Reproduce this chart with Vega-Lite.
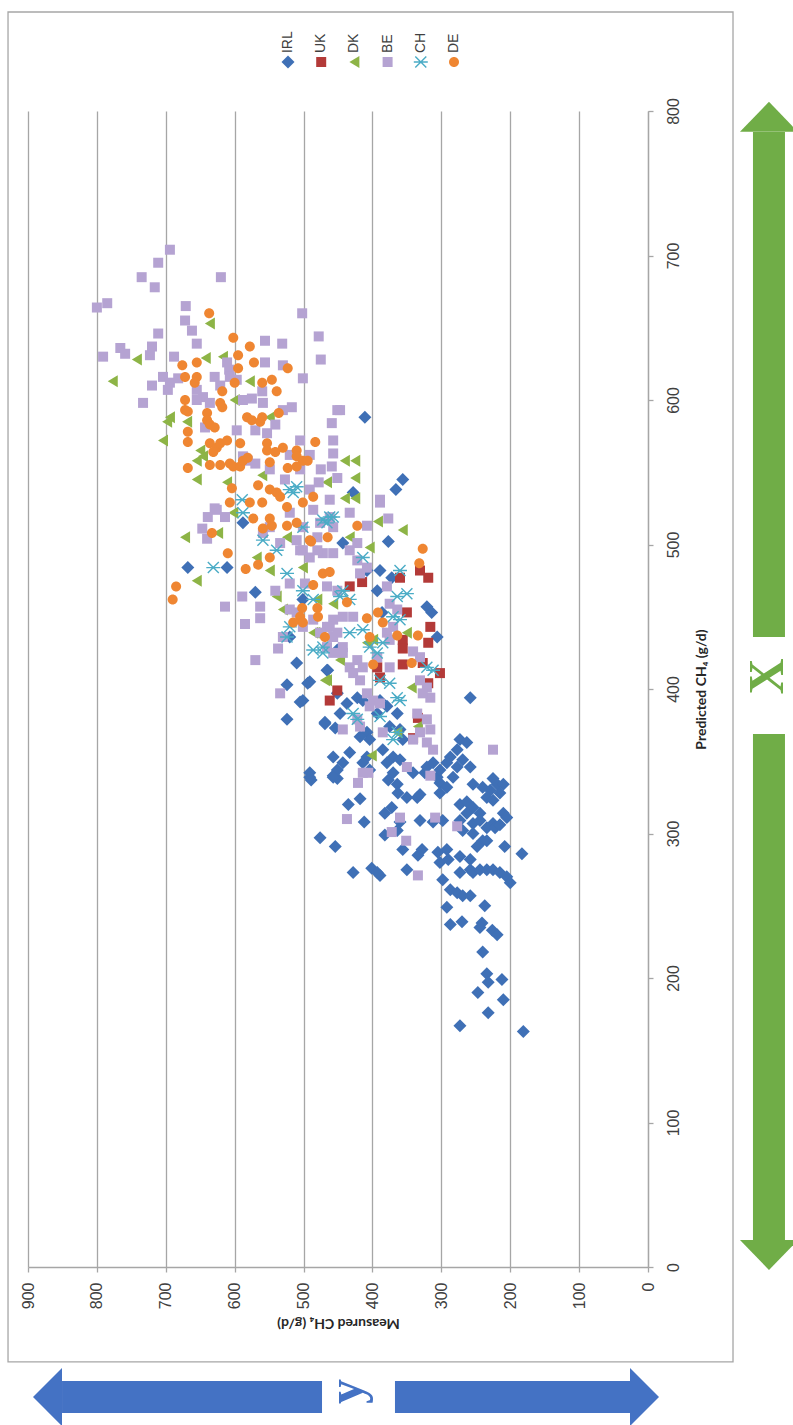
{
"$schema": "https://vega.github.io/schema/vega-lite/v6.json",
"width": 620, "height": 1156,
"autosize": {"type": "none"},
"padding": {"left": 28, "top": 111, "right": 145, "bottom": 158},
"background": "white",
"config": {"view": {"stroke": null}, "font": "Liberation Sans"},
"datasets": {"pts": [
{"country":"IRL","meas":489,"pred":337},{"country":"IRL","meas":457,"pred":340},{"country":"IRL","meas":451,"pred":338},{"country":"IRL","meas":435,"pred":320},{"country":"IRL","meas":418,"pred":324},{"country":"IRL","meas":412,"pred":308},{"country":"IRL","meas":476,"pred":297},{"country":"IRL","meas":454,"pred":291},{"country":"IRL","meas":428,"pred":273},{"country":"IRL","meas":401,"pred":276},{"country":"IRL","meas":389,"pred":271},{"country":"IRL","meas":393,"pred":273},{"country":"IRL","meas":382,"pred":314},{"country":"IRL","meas":372,"pred":318},{"country":"IRL","meas":377,"pred":337},{"country":"IRL","meas":364,"pred":334},{"country":"IRL","meas":370,"pred":342},{"country":"IRL","meas":363,"pred":328},{"country":"IRL","meas":350,"pred":325},{"country":"IRL","meas":335,"pred":325},{"country":"IRL","meas":331,"pred":327},{"country":"IRL","meas":360,"pred":308},{"country":"IRL","meas":364,"pred":302},{"country":"IRL","meas":382,"pred":299},{"country":"IRL","meas":350,"pred":275},{"country":"IRL","meas":356,"pred":289},{"country":"IRL","meas":334,"pred":285},{"country":"IRL","meas":328,"pred":289},{"country":"IRL","meas":331,"pred":309},{"country":"IRL","meas":341,"pred":342},{"country":"IRL","meas":324,"pred":342},{"country":"IRL","meas":302,"pred":335},{"country":"IRL","meas":302,"pred":328},{"country":"IRL","meas":292,"pred":332},{"country":"IRL","meas":306,"pred":339},{"country":"IRL","meas":283,"pred":339},{"country":"IRL","meas":312,"pred":308},{"country":"IRL","meas":298,"pred":309},{"country":"IRL","meas":305,"pred":287},{"country":"IRL","meas":292,"pred":289},{"country":"IRL","meas":302,"pred":280},{"country":"IRL","meas":290,"pred":282},{"country":"IRL","meas":298,"pred":268},
{"country":"IRL","meas":273,"pred":320},{"country":"IRL","meas":263,"pred":322},{"country":"IRL","meas":254,"pred":318},{"country":"IRL","meas":244,"pred":314},{"country":"IRL","meas":263,"pred":314},{"country":"IRL","meas":254,"pred":307},{"country":"IRL","meas":244,"pred":309},{"country":"IRL","meas":234,"pred":304},{"country":"IRL","meas":254,"pred":300},{"country":"IRL","meas":240,"pred":295},{"country":"IRL","meas":269,"pred":302},{"country":"IRL","meas":273,"pred":309},{"country":"IRL","meas":248,"pred":291},{"country":"IRL","meas":234,"pred":295},{"country":"IRL","meas":225,"pred":307},
{"country":"IRL","meas":273,"pred":284},{"country":"IRL","meas":258,"pred":282},{"country":"IRL","meas":273,"pred":273},{"country":"IRL","meas":258,"pred":275},{"country":"IRL","meas":254,"pred":273},{"country":"IRL","meas":244,"pred":275},{"country":"IRL","meas":234,"pred":275},{"country":"IRL","meas":225,"pred":275},{"country":"IRL","meas":215,"pred":273},{"country":"IRL","meas":205,"pred":270},{"country":"IRL","meas":200,"pred":266},{"country":"IRL","meas":287,"pred":261},{"country":"IRL","meas":277,"pred":259},{"country":"IRL","meas":269,"pred":257},{"country":"IRL","meas":258,"pred":257},{"country":"IRL","meas":292,"pred":249},{"country":"IRL","meas":287,"pred":237},{"country":"IRL","meas":270,"pred":239},{"country":"IRL","meas":237,"pred":250},{"country":"IRL","meas":241,"pred":238},{"country":"IRL","meas":244,"pred":235},{"country":"IRL","meas":226,"pred":233},{"country":"IRL","meas":219,"pred":230},{"country":"IRL","meas":240,"pred":218},{"country":"IRL","meas":234,"pred":203},{"country":"IRL","meas":232,"pred":197},{"country":"IRL","meas":212,"pred":199},{"country":"IRL","meas":247,"pred":190},{"country":"IRL","meas":210,"pred":185},{"country":"IRL","meas":232,"pred":176},{"country":"IRL","meas":273,"pred":167},{"country":"IRL","meas":181,"pred":163},
{"country":"IRL","meas":254,"pred":334},{"country":"IRL","meas":240,"pred":332},{"country":"IRL","meas":229,"pred":330},{"country":"IRL","meas":219,"pred":334},{"country":"IRL","meas":210,"pred":334},{"country":"IRL","meas":234,"pred":325},{"country":"IRL","meas":225,"pred":323},{"country":"IRL","meas":215,"pred":328},{"country":"IRL","meas":210,"pred":314},{"country":"IRL","meas":205,"pred":311},{"country":"IRL","meas":222,"pred":304},{"country":"IRL","meas":215,"pred":306},{"country":"IRL","meas":208,"pred":291},{"country":"IRL","meas":183,"pred":286},
{"country":"IRL","meas":377,"pred":502},{"country":"IRL","meas":389,"pred":482},{"country":"IRL","meas":372,"pred":477},{"country":"IRL","meas":321,"pred":457},{"country":"IRL","meas":314,"pred":453},{"country":"IRL","meas":306,"pred":436},{"country":"IRL","meas":258,"pred":394},{"country":"IRL","meas":491,"pred":405},{"country":"IRL","meas":501,"pred":392},{"country":"IRL","meas":465,"pred":413},{"country":"IRL","meas":451,"pred":397},{"country":"IRL","meas":437,"pred":390},{"country":"IRL","meas":422,"pred":394},{"country":"IRL","meas":414,"pred":392},{"country":"IRL","meas":447,"pred":383},{"country":"IRL","meas":469,"pred":377},{"country":"IRL","meas":454,"pred":373},{"country":"IRL","meas":408,"pred":370},{"country":"IRL","meas":404,"pred":365},{"country":"IRL","meas":418,"pred":367},{"country":"IRL","meas":389,"pred":392},{"country":"IRL","meas":379,"pred":388},{"country":"IRL","meas":364,"pred":383},{"country":"IRL","meas":360,"pred":372},{"country":"IRL","meas":356,"pred":365},{"country":"IRL","meas":393,"pred":383},{"country":"IRL","meas":375,"pred":374},
{"country":"IRL","meas":273,"pred":365},{"country":"IRL","meas":263,"pred":363},{"country":"IRL","meas":277,"pred":358},{"country":"IRL","meas":287,"pred":353},{"country":"IRL","meas":269,"pred":351},{"country":"IRL","meas":258,"pred":346},{"country":"IRL","meas":277,"pred":346},{"country":"IRL","meas":292,"pred":349},{"country":"IRL","meas":302,"pred":344},{"country":"IRL","meas":321,"pred":346},{"country":"IRL","meas":312,"pred":349},{"country":"IRL","meas":225,"pred":338},
{"country":"IRL","meas":457,"pred":353},{"country":"IRL","meas":443,"pred":349},{"country":"IRL","meas":451,"pred":344},{"country":"IRL","meas":491,"pred":342},{"country":"IRL","meas":433,"pred":356},{"country":"IRL","meas":385,"pred":358},{"country":"IRL","meas":370,"pred":353},{"country":"IRL","meas":360,"pred":351},{"country":"IRL","meas":379,"pred":349},{"country":"IRL","meas":408,"pred":353},{"country":"IRL","meas":414,"pred":349},{"country":"IRL","meas":404,"pred":344},{"country":"IRL","meas":443,"pred":501},{"country":"IRL","meas":408,"pred":482},{"country":"IRL","meas":393,"pred":468},{"country":"IRL","meas":386,"pred":453},
{"country":"IRL","meas":668,"pred":484},{"country":"IRL","meas":611,"pred":484},{"country":"IRL","meas":588,"pred":515},{"country":"IRL","meas":570,"pred":467},{"country":"IRL","meas":510,"pred":418},{"country":"IRL","meas":524,"pred":403},{"country":"IRL","meas":494,"pred":404},{"country":"IRL","meas":505,"pred":391},{"country":"IRL","meas":524,"pred":379},{"country":"IRL","meas":469,"pred":376},{"country":"IRL","meas":466,"pred":413},{"country":"IRL","meas":491,"pred":339},{"country":"IRL","meas":457,"pred":339},{"country":"IRL","meas":501,"pred":462},{"country":"IRL","meas":520,"pred":436},{"country":"IRL","meas":451,"pred":427},
{"country":"IRL","meas":411,"pred":588},{"country":"IRL","meas":356,"pred":545},{"country":"IRL","meas":366,"pred":538},{"country":"IRL","meas":428,"pred":536},
{"country":"UK","meas":331,"pred":482},{"country":"UK","meas":319,"pred":477},{"country":"UK","meas":360,"pred":477},{"country":"UK","meas":415,"pred":474},{"country":"UK","meas":433,"pred":471},{"country":"UK","meas":350,"pred":453},{"country":"UK","meas":316,"pred":443},{"country":"UK","meas":319,"pred":432},{"country":"UK","meas":356,"pred":434},{"country":"UK","meas":356,"pred":428},{"country":"UK","meas":356,"pred":417},{"country":"UK","meas":327,"pred":418},{"country":"UK","meas":302,"pred":411},{"country":"UK","meas":393,"pred":415},{"country":"UK","meas":389,"pred":408},{"country":"UK","meas":451,"pred":399},{"country":"UK","meas":462,"pred":392},{"country":"UK","meas":334,"pred":380},{"country":"UK","meas":341,"pred":366},{"country":"UK","meas":319,"pred":404},
{"country":"DK","meas":636,"pred":653},{"country":"DK","meas":742,"pred":628},{"country":"DK","meas":777,"pred":613},{"country":"DK","meas":642,"pred":629},{"country":"DK","meas":617,"pred":630},{"country":"DK","meas":578,"pred":613},{"country":"DK","meas":600,"pred":600},{"country":"DK","meas":549,"pred":588},{"country":"DK","meas":694,"pred":588},{"country":"DK","meas":698,"pred":585},{"country":"DK","meas":669,"pred":585},{"country":"DK","meas":704,"pred":572},{"country":"DK","meas":650,"pred":565},{"country":"DK","meas":646,"pred":561},{"country":"DK","meas":655,"pred":558},{"country":"DK","meas":655,"pred":545},{"country":"DK","meas":611,"pred":543},{"country":"DK","meas":560,"pred":548},{"country":"DK","meas":466,"pred":543},{"country":"DK","meas":672,"pred":505},{"country":"DK","meas":655,"pred":475},{"country":"DK","meas":624,"pred":508},{"country":"DK","meas":602,"pred":522},{"country":"DK","meas":539,"pred":464},{"country":"DK","meas":530,"pred":455},{"country":"DK","meas":486,"pred":439},{"country":"DK","meas":466,"pred":406},{"country":"DK","meas":568,"pred":491},{"country":"DK","meas":549,"pred":482},{"country":"DK","meas":501,"pred":484},{"country":"DK","meas":524,"pred":505},{"country":"DK","meas":356,"pred":510},{"country":"DK","meas":392,"pred":516},{"country":"DK","meas":433,"pred":505},{"country":"DK","meas":404,"pred":498},{"country":"DK","meas":457,"pred":459},{"country":"DK","meas":480,"pred":462},{"country":"DK","meas":350,"pred":439},{"country":"DK","meas":483,"pred":439},{"country":"DK","meas":408,"pred":432},{"country":"DK","meas":399,"pred":434},{"country":"DK","meas":447,"pred":420},{"country":"DK","meas":469,"pred":406},{"country":"DK","meas":343,"pred":401},{"country":"DK","meas":364,"pred":370},{"country":"DK","meas":401,"pred":354},{"country":"DK","meas":334,"pred":374},{"country":"DK","meas":440,"pred":558},{"country":"DK","meas":425,"pred":558},{"country":"DK","meas":425,"pred":546},{"country":"DK","meas":440,"pred":532},{"country":"DK","meas":425,"pred":532},
{"country":"BE","meas":694,"pred":704},{"country":"BE","meas":711,"pred":695},{"country":"BE","meas":735,"pred":685},{"country":"BE","meas":716,"pred":678},{"country":"BE","meas":620,"pred":685},{"country":"BE","meas":800,"pred":664},{"country":"BE","meas":785,"pred":667},{"country":"BE","meas":671,"pred":665},{"country":"BE","meas":672,"pred":655},{"country":"BE","meas":662,"pred":648},{"country":"BE","meas":711,"pred":646},{"country":"BE","meas":655,"pred":639},{"country":"BE","meas":502,"pred":660},{"country":"BE","meas":556,"pred":641},{"country":"BE","meas":531,"pred":639},{"country":"BE","meas":478,"pred":644},{"country":"BE","meas":475,"pred":628},{"country":"BE","meas":791,"pred":630},{"country":"BE","meas":766,"pred":636},{"country":"BE","meas":759,"pred":632},{"country":"BE","meas":720,"pred":637},{"country":"BE","meas":723,"pred":631},{"country":"BE","meas":688,"pred":630},{"country":"BE","meas":611,"pred":626},{"country":"BE","meas":608,"pred":621},{"country":"BE","meas":556,"pred":626},{"country":"BE","meas":530,"pred":624},{"country":"BE","meas":501,"pred":615},{"country":"BE","meas":704,"pred":616},{"country":"BE","meas":694,"pred":612},{"country":"BE","meas":720,"pred":610},{"country":"BE","meas":697,"pred":607},{"country":"BE","meas":682,"pred":615},{"country":"BE","meas":629,"pred":616},{"country":"BE","meas":621,"pred":610},{"country":"BE","meas":607,"pred":616},{"country":"BE","meas":597,"pred":614},{"country":"BE","meas":655,"pred":607},{"country":"BE","meas":646,"pred":602},{"country":"BE","meas":655,"pred":600},{"country":"BE","meas":636,"pred":598},{"country":"BE","meas":733,"pred":598},{"country":"BE","meas":588,"pred":600},{"country":"BE","meas":575,"pred":601},{"country":"BE","meas":560,"pred":606},{"country":"BE","meas":559,"pred":598},{"country":"BE","meas":530,"pred":593},{"country":"BE","meas":517,"pred":595},{"country":"BE","meas":597,"pred":579},{"country":"BE","meas":643,"pred":581},{"country":"BE","meas":570,"pred":579},{"country":"BE","meas":553,"pred":577},{"country":"BE","meas":451,"pred":593},{"country":"BE","meas":459,"pred":584},{"country":"BE","meas":457,"pred":572},{"country":"BE","meas":457,"pred":563},{"country":"BE","meas":459,"pred":554},{"country":"BE","meas":451,"pred":546},{"country":"BE","meas":462,"pred":531},{"country":"BE","meas":588,"pred":561},{"country":"BE","meas":581,"pred":558},{"country":"BE","meas":570,"pred":556},{"country":"BE","meas":629,"pred":525},{"country":"BE","meas":447,"pred":593},{"country":"BE","meas":475,"pred":552},{"country":"BE","meas":478,"pred":543},{"country":"BE","meas":389,"pred":531},{"country":"BE","meas":505,"pred":572},{"country":"BE","meas":541,"pred":583},{"country":"BE","meas":520,"pred":562},{"country":"BE","meas":549,"pred":552},{"country":"BE","meas":527,"pred":545},{"country":"BE","meas":505,"pred":552},{"country":"BE","meas":491,"pred":562},{"country":"BE","meas":491,"pred":538},
{"country":"BE","meas":626,"pred":524},{"country":"BE","meas":639,"pred":519},{"country":"BE","meas":614,"pred":519},{"country":"BE","meas":647,"pred":511},{"country":"BE","meas":640,"pred":504},{"country":"BE","meas":614,"pred":457},{"country":"BE","meas":589,"pred":464},{"country":"BE","meas":563,"pred":457},{"country":"BE","meas":563,"pred":449},{"country":"BE","meas":585,"pred":445},{"country":"BE","meas":541,"pred":468},{"country":"BE","meas":520,"pred":473},{"country":"BE","meas":530,"pred":436},{"country":"BE","meas":537,"pred":428},{"country":"BE","meas":570,"pred":420},{"country":"BE","meas":534,"pred":397},{"country":"BE","meas":559,"pred":508},{"country":"BE","meas":534,"pred":501},{"country":"BE","meas":510,"pred":503},{"country":"BE","meas":501,"pred":496},{"country":"BE","meas":491,"pred":491},{"country":"BE","meas":472,"pred":494},{"country":"BE","meas":480,"pred":505},{"country":"BE","meas":501,"pred":512},{"country":"BE","meas":520,"pred":522},{"country":"BE","meas":457,"pred":512},{"country":"BE","meas":549,"pred":512},{"country":"BE","meas":498,"pred":473},{"country":"BE","meas":466,"pred":471},{"country":"BE","meas":451,"pred":468},{"country":"BE","meas":520,"pred":455},{"country":"BE","meas":510,"pred":453},{"country":"BE","meas":486,"pred":448},{"country":"BE","meas":462,"pred":443},{"country":"BE","meas":451,"pred":439},{"country":"BE","meas":466,"pred":429},{"country":"BE","meas":457,"pred":425},
{"country":"BE","meas":486,"pred":524},{"country":"BE","meas":462,"pred":519},{"country":"BE","meas":476,"pred":515},{"country":"BE","meas":389,"pred":529},{"country":"BE","meas":377,"pred":518},{"country":"BE","meas":408,"pred":513},{"country":"BE","meas":433,"pred":522},{"country":"BE","meas":505,"pred":496},{"country":"BE","meas":480,"pred":496},{"country":"BE","meas":457,"pred":494},{"country":"BE","meas":433,"pred":496},{"country":"BE","meas":422,"pred":501},{"country":"BE","meas":418,"pred":480},{"country":"BE","meas":408,"pred":484},{"country":"BE","meas":422,"pred":489},{"country":"BE","meas":379,"pred":471},{"country":"BE","meas":443,"pred":450},{"country":"BE","meas":457,"pred":448},{"country":"BE","meas":428,"pred":450},{"country":"BE","meas":466,"pred":443},{"country":"BE","meas":375,"pred":459},{"country":"BE","meas":364,"pred":455},{"country":"BE","meas":501,"pred":443},{"country":"BE","meas":476,"pred":439},{"country":"BE","meas":457,"pred":436},{"country":"BE","meas":443,"pred":429},{"country":"BE","meas":379,"pred":439},{"country":"BE","meas":375,"pred":434},{"country":"BE","meas":370,"pred":443},{"country":"BE","meas":341,"pred":426},{"country":"BE","meas":331,"pred":422},{"country":"BE","meas":443,"pred":425},{"country":"BE","meas":422,"pred":420},{"country":"BE","meas":433,"pred":415},{"country":"BE","meas":414,"pred":415},{"country":"BE","meas":428,"pred":411},{"country":"BE","meas":418,"pred":406},{"country":"BE","meas":393,"pred":422},{"country":"BE","meas":375,"pred":415},{"country":"BE","meas":331,"pred":406},{"country":"BE","meas":321,"pred":401},{"country":"BE","meas":316,"pred":394},{"country":"BE","meas":327,"pred":397},{"country":"BE","meas":408,"pred":397},{"country":"BE","meas":399,"pred":392},{"country":"BE","meas":404,"pred":388},{"country":"BE","meas":389,"pred":390},{"country":"BE","meas":335,"pred":383},{"country":"BE","meas":321,"pred":379},{"country":"BE","meas":316,"pred":372},{"country":"BE","meas":331,"pred":370},{"country":"BE","meas":321,"pred":363},{"country":"BE","meas":312,"pred":358},{"country":"BE","meas":341,"pred":365},{"country":"BE","meas":385,"pred":370},{"country":"BE","meas":418,"pred":374},{"country":"BE","meas":422,"pred":379},{"country":"BE","meas":443,"pred":372},{"country":"BE","meas":225,"pred":358},{"country":"BE","meas":350,"pred":346},{"country":"BE","meas":414,"pred":342},
{"country":"BE","meas":421,"pred":335},{"country":"BE","meas":406,"pred":342},{"country":"BE","meas":316,"pred":340},{"country":"BE","meas":437,"pred":310},{"country":"BE","meas":360,"pred":311},{"country":"BE","meas":309,"pred":311},{"country":"BE","meas":277,"pred":305},{"country":"BE","meas":372,"pred":301},{"country":"BE","meas":351,"pred":295},{"country":"BE","meas":334,"pred":271},
{"country":"CH","meas":589,"pred":531},{"country":"CH","meas":520,"pred":538},{"country":"CH","meas":515,"pred":536},{"country":"CH","meas":510,"pred":540},{"country":"CH","meas":631,"pred":484},{"country":"CH","meas":588,"pred":522},{"country":"CH","meas":559,"pred":503},{"country":"CH","meas":539,"pred":496},{"country":"CH","meas":501,"pred":512},{"country":"CH","meas":472,"pred":517},{"country":"CH","meas":462,"pred":519},{"country":"CH","meas":524,"pred":480},{"country":"CH","meas":501,"pred":468},{"country":"CH","meas":486,"pred":462},{"country":"CH","meas":520,"pred":443},{"country":"CH","meas":524,"pred":436},{"country":"CH","meas":486,"pred":427},{"country":"CH","meas":472,"pred":425},{"country":"CH","meas":457,"pred":519},{"country":"CH","meas":466,"pred":515},{"country":"CH","meas":414,"pred":491},{"country":"CH","meas":360,"pred":482},{"country":"CH","meas":350,"pred":466},{"country":"CH","meas":364,"pred":464},{"country":"CH","meas":443,"pred":468},{"country":"CH","meas":447,"pred":464},{"country":"CH","meas":433,"pred":462},{"country":"CH","meas":472,"pred":429},{"country":"CH","meas":433,"pred":439},{"country":"CH","meas":414,"pred":441},{"country":"CH","meas":404,"pred":429},{"country":"CH","meas":393,"pred":425},{"country":"CH","meas":385,"pred":432},{"country":"CH","meas":370,"pred":450},{"country":"CH","meas":360,"pred":448},{"country":"CH","meas":389,"pred":406},{"country":"CH","meas":375,"pred":404},{"country":"CH","meas":321,"pred":415},{"country":"CH","meas":312,"pred":413},{"country":"CH","meas":428,"pred":383},{"country":"CH","meas":422,"pred":379},{"country":"CH","meas":389,"pred":381},{"country":"CH","meas":364,"pred":394},{"country":"CH","meas":360,"pred":392},{"country":"CH","meas":364,"pred":370},{"country":"CH","meas":370,"pred":365},
{"country":"DE","meas":637,"pred":660},{"country":"DE","meas":602,"pred":643},{"country":"DE","meas":578,"pred":637},{"country":"DE","meas":595,"pred":631},{"country":"DE","meas":655,"pred":626},{"country":"DE","meas":676,"pred":624},{"country":"DE","meas":672,"pred":616},{"country":"DE","meas":655,"pred":616},{"country":"DE","meas":658,"pred":612},{"country":"DE","meas":595,"pred":622},{"country":"DE","meas":572,"pred":626},{"country":"DE","meas":523,"pred":622},{"country":"DE","meas":600,"pred":612},{"country":"DE","meas":560,"pred":612},{"country":"DE","meas":546,"pred":614},{"country":"DE","meas":539,"pred":606},{"country":"DE","meas":618,"pred":606},{"country":"DE","meas":672,"pred":600},{"country":"DE","meas":672,"pred":593},{"country":"DE","meas":668,"pred":592},{"country":"DE","meas":621,"pred":598},{"country":"DE","meas":618,"pred":595},{"country":"DE","meas":640,"pred":591},{"country":"DE","meas":640,"pred":586},{"country":"DE","meas":636,"pred":583},{"country":"DE","meas":629,"pred":581},{"country":"DE","meas":582,"pred":588},{"country":"DE","meas":575,"pred":586},{"country":"DE","meas":563,"pred":585},{"country":"DE","meas":560,"pred":588},{"country":"DE","meas":536,"pred":591},{"country":"DE","meas":668,"pred":578},{"country":"DE","meas":668,"pred":571},{"country":"DE","meas":636,"pred":570},{"country":"DE","meas":626,"pred":567},{"country":"DE","meas":621,"pred":570},{"country":"DE","meas":631,"pred":564},{"country":"DE","meas":611,"pred":572},{"country":"DE","meas":592,"pred":570},{"country":"DE","meas":553,"pred":570},{"country":"DE","meas":553,"pred":565},{"country":"DE","meas":541,"pred":564},{"country":"DE","meas":530,"pred":567},{"country":"DE","meas":483,"pred":571},{"country":"DE","meas":510,"pred":565},{"country":"DE","meas":510,"pred":561},{"country":"DE","meas":501,"pred":558},{"country":"DE","meas":494,"pred":558},{"country":"DE","meas":668,"pred":553},{"country":"DE","meas":636,"pred":555},{"country":"DE","meas":621,"pred":555},{"country":"DE","meas":607,"pred":556},{"country":"DE","meas":602,"pred":554},{"country":"DE","meas":592,"pred":554},{"country":"DE","meas":588,"pred":558},{"country":"DE","meas":581,"pred":560},{"country":"DE","meas":549,"pred":557},{"country":"DE","meas":523,"pred":553},{"country":"DE","meas":510,"pred":554},{"country":"DE","meas":604,"pred":539},{"country":"DE","meas":566,"pred":541},{"country":"DE","meas":549,"pred":538},{"country":"DE","meas":539,"pred":536},{"country":"DE","meas":534,"pred":533},{"country":"DE","meas":486,"pred":533},{"country":"DE","meas":578,"pred":529},{"country":"DE","meas":607,"pred":529},{"country":"DE","meas":560,"pred":529},{"country":"DE","meas":524,"pred":526},{"country":"DE","meas":501,"pred":529},{"country":"DE","meas":573,"pred":518},{"country":"DE","meas":549,"pred":518},{"country":"DE","meas":546,"pred":513},{"country":"DE","meas":559,"pred":511},{"country":"DE","meas":524,"pred":513},{"country":"DE","meas":510,"pred":515},{"country":"DE","meas":633,"pred":508},{"country":"DE","meas":610,"pred":494},{"country":"DE","meas":489,"pred":502},{"country":"DE","meas":465,"pred":505},{"country":"DE","meas":549,"pred":491},{"country":"DE","meas":566,"pred":486},{"country":"DE","meas":584,"pred":483},{"country":"DE","meas":472,"pred":480},{"country":"DE","meas":462,"pred":481},{"country":"DE","meas":486,"pred":472},{"country":"DE","meas":685,"pred":471},{"country":"DE","meas":690,"pred":462},{"country":"DE","meas":502,"pred":456},{"country":"DE","meas":480,"pred":456},{"country":"DE","meas":505,"pred":450},{"country":"DE","meas":501,"pred":446},{"country":"DE","meas":515,"pred":446},{"country":"DE","meas":479,"pred":450},{"country":"DE","meas":469,"pred":436},{"country":"DE","meas":422,"pred":513},{"country":"DE","meas":491,"pred":503},{"country":"DE","meas":327,"pred":497},{"country":"DE","meas":332,"pred":487},{"country":"DE","meas":437,"pred":460},{"country":"DE","meas":408,"pred":449},{"country":"DE","meas":392,"pred":453},{"country":"DE","meas":385,"pred":446},{"country":"DE","meas":404,"pred":436},{"country":"DE","meas":364,"pred":437},{"country":"DE","meas":334,"pred":437},{"country":"DE","meas":399,"pred":417},{"country":"DE","meas":343,"pred":418}
],
"legendItems": [{"country":"IRL"},{"country":"UK"},{"country":"DK"},{"country":"BE"},{"country":"CH"},{"country":"DE"}]
},
"resolve": {"scale": {"x": "independent"}, "axis": {"x": "independent"}},
"layer": [
{"layer": [
{"data": {"values": [{}]},
 "mark": {"type": "rect", "fill": null, "stroke": "#A6A6A6", "strokeWidth": 1.3},
 "encoding": {
  "x": {"datum": 929, "type": "quantitative", "scale": {"domain": [0, 900], "reverse": true, "nice": false, "zero": false}},
  "x2": {"datum": -123.4},
  "y": {"datum": 868.5, "type": "quantitative", "scale": {"domain": [0, 800], "nice": false, "zero": false}},
  "y2": {"datum": -65.7}}},
{"data": {"name": "pts"},
 "mark": {"type": "point", "filled": true, "opacity": 1, "size": 100, "strokeWidth": 0},
 "encoding": {
  "x": {"field": "meas", "type": "quantitative",
   "scale": {"domain": [0, 900], "reverse": true, "nice": false, "zero": false},
   "axis": {"orient": "bottom", "values": [0,100,200,300,400,500,600,700,800,900], "grid": true, "gridColor": "#A6A6A6", "gridWidth": 1.3,
    "domainColor": "#A6A6A6", "domainWidth": 1.3, "tickColor": "#A6A6A6", "tickWidth": 1.3, "tickSize": 5,
    "labelAngle": -90, "labelAlign": "right", "labelBaseline": "middle", "labelPadding": 10, "labelFlush": false, "labelOverlap": false,
    "labelFont": "Liberation Sans", "labelFontSize": 16, "labelColor": "#404040",
    "title": "Measured CH₄ (g/d)", "titleFont": "Lato", "titleFontSize": 14, "titleFontWeight": "bold", "titleColor": "#262626",
    "titleAngle": 180, "titleAlign": "center", "titleBaseline": "middle", "titleX": 310, "titleY": 55}},
  "y": {"field": "pred", "type": "quantitative",
   "scale": {"domain": [0, 800], "nice": false, "zero": false},
   "axis": {"orient": "right", "values": [0,100,200,300,400,500,600,700,800], "grid": false,
    "domainColor": "#A6A6A6", "domainWidth": 1.3, "tickColor": "#A6A6A6", "tickWidth": 1.3, "tickSize": 5,
    "labelAngle": -90, "labelAlign": "center", "labelBaseline": "top", "labelPadding": 12, "labelFlush": false, "labelOverlap": false,
    "labelFont": "Liberation Sans", "labelFontSize": 16, "labelColor": "#404040",
    "title": "Predicted CH₄ (g/d)", "titleFont": "Lato", "titleFontSize": 14, "titleFontWeight": "bold", "titleColor": "#262626",
    "titleAngle": -90, "titleAlign": "center", "titleBaseline": "middle", "titleX": 53, "titleY": 578}},
  "color": {"field": "country", "type": "nominal",
   "scale": {"domain": ["IRL","UK","DK","BE","CH","DE"], "range": ["#3F70B6","#B33A38","#8DB446","#B5A3D2","#4BACC6","#EF8632"]},
   "legend": null},
  "shape": {"field": "country", "type": "nominal",
   "scale": {"domain": ["IRL","UK","DK","BE","CH","DE"], "range": [
     "M0,-1.3L1.3,0L0,1.3L-1.3,0Z",
     "M-1,-1L1,-1L1,1L-1,1Z",
     "M-1,0L1,-1.2L1,1.2Z",
     "M-1,-1L1,-1L1,1L-1,1Z",
     "M-1.4,-0.14L1.4,-0.14L1.4,0.14L-1.4,0.14ZM-1,-1.2L1.2,1L1,1.2L-1.2,-1ZM-1,1.2L-1.2,1L1,-1.2L1.2,-1Z",
     "M1,0A1,1,0,1,1,-1,0A1,1,0,1,1,1,0Z"]},
   "legend": null}}},
{"data": {"values": [{}]},
 "mark": {"type": "rule", "color": "#70AD47", "strokeWidth": 32, "strokeCap": "butt"},
 "encoding": {"x": {"datum": -175.6, "type": "quantitative"}, "y": {"datum": 785.4, "type": "quantitative"}, "y2": {"datum": 436}}},
{"data": {"values": [{}]},
 "mark": {"type": "rule", "color": "#70AD47", "strokeWidth": 32, "strokeCap": "butt"},
 "encoding": {"x": {"datum": -175.6, "type": "quantitative"}, "y": {"datum": 368.8, "type": "quantitative"}, "y2": {"datum": 18.7}}},
{"data": {"values": [{}]},
 "mark": {"type": "point", "shape": "M0,-0.517L1,0.517L-1,0.517Z", "size": 3364, "filled": true, "color": "#70AD47", "opacity": 1, "strokeWidth": 0},
 "encoding": {"x": {"datum": -175.6, "type": "quantitative"}, "y": {"datum": 796, "type": "quantitative"}}},
{"data": {"values": [{}]},
 "mark": {"type": "point", "shape": "M0,0.517L1,-0.517L-1,-0.517Z", "size": 3364, "filled": true, "color": "#70AD47", "opacity": 1, "strokeWidth": 0},
 "encoding": {"x": {"datum": -175.6, "type": "quantitative"}, "y": {"datum": 8.3, "type": "quantitative"}}},
{"data": {"values": [{}]},
 "mark": {"type": "rule", "color": "#4472C4", "strokeWidth": 32, "strokeCap": "butt"},
 "encoding": {"x": {"datum": 850.6, "type": "quantitative"}, "x2": {"datum": 473.2}, "y": {"datum": -90, "type": "quantitative"}}},
{"data": {"values": [{}]},
 "mark": {"type": "rule", "color": "#4472C4", "strokeWidth": 32, "strokeCap": "butt"},
 "encoding": {"x": {"datum": 367.3, "type": "quantitative"}, "x2": {"datum": 26.1}, "y": {"datum": -90, "type": "quantitative"}}},
{"data": {"values": [{}]},
 "mark": {"type": "point", "shape": "M-0.5,0L0.5,-1L0.5,1Z", "size": 3364, "filled": true, "color": "#4472C4", "opacity": 1, "strokeWidth": 0},
 "encoding": {"x": {"datum": 871.7, "type": "quantitative"}, "y": {"datum": -90, "type": "quantitative"}}},
{"data": {"values": [{}]},
 "mark": {"type": "point", "shape": "M0.5,0L-0.5,-1L-0.5,1Z", "size": 3364, "filled": true, "color": "#4472C4", "opacity": 1, "strokeWidth": 0},
 "encoding": {"x": {"datum": 5.1, "type": "quantitative"}, "y": {"datum": -90, "type": "quantitative"}}},
{"data": {"values": [{}]},
 "mark": {"type": "text", "text": "X", "angle": -90, "font": "Liberation Serif", "fontSize": 50, "fontWeight": "bold", "color": "#70AD47", "align": "center", "baseline": "alphabetic"},
 "encoding": {"x": {"datum": -196, "type": "quantitative"}, "y": {"datum": 408.6, "type": "quantitative"}}},
{"data": {"values": [{}]},
 "mark": {"type": "text", "text": "y", "angle": -90, "font": "Liberation Serif", "fontSize": 50, "fontWeight": "bold", "color": "#4472C4", "align": "center", "baseline": "alphabetic"},
 "encoding": {"x": {"datum": 415.2, "type": "quantitative"}, "y": {"datum": -86.2, "type": "quantitative"}}}
]},
{"layer": [
{"data": {"name": "legendItems"},
 "mark": {"type": "point", "filled": true, "opacity": 1, "size": 100, "strokeWidth": 0},
 "encoding": {
  "x": {"field": "country", "type": "nominal", "scale": {"type": "point", "domain": ["IRL","UK","DK","BE","CH","DE"], "range": [260, 426], "padding": 0}, "axis": null},
  "y": {"datum": 833.9, "type": "quantitative"},
  "color": {"field": "country", "type": "nominal", "legend": null},
  "shape": {"field": "country", "type": "nominal", "legend": null}}},
{"data": {"name": "legendItems"},
 "mark": {"type": "text", "angle": -90, "align": "left", "baseline": "middle", "font": "Liberation Sans", "fontSize": 14, "color": "#404040"},
 "encoding": {
  "x": {"field": "country", "type": "nominal", "axis": null},
  "y": {"datum": 840.1, "type": "quantitative"},
  "text": {"field": "country"}}}
]}
]
}
